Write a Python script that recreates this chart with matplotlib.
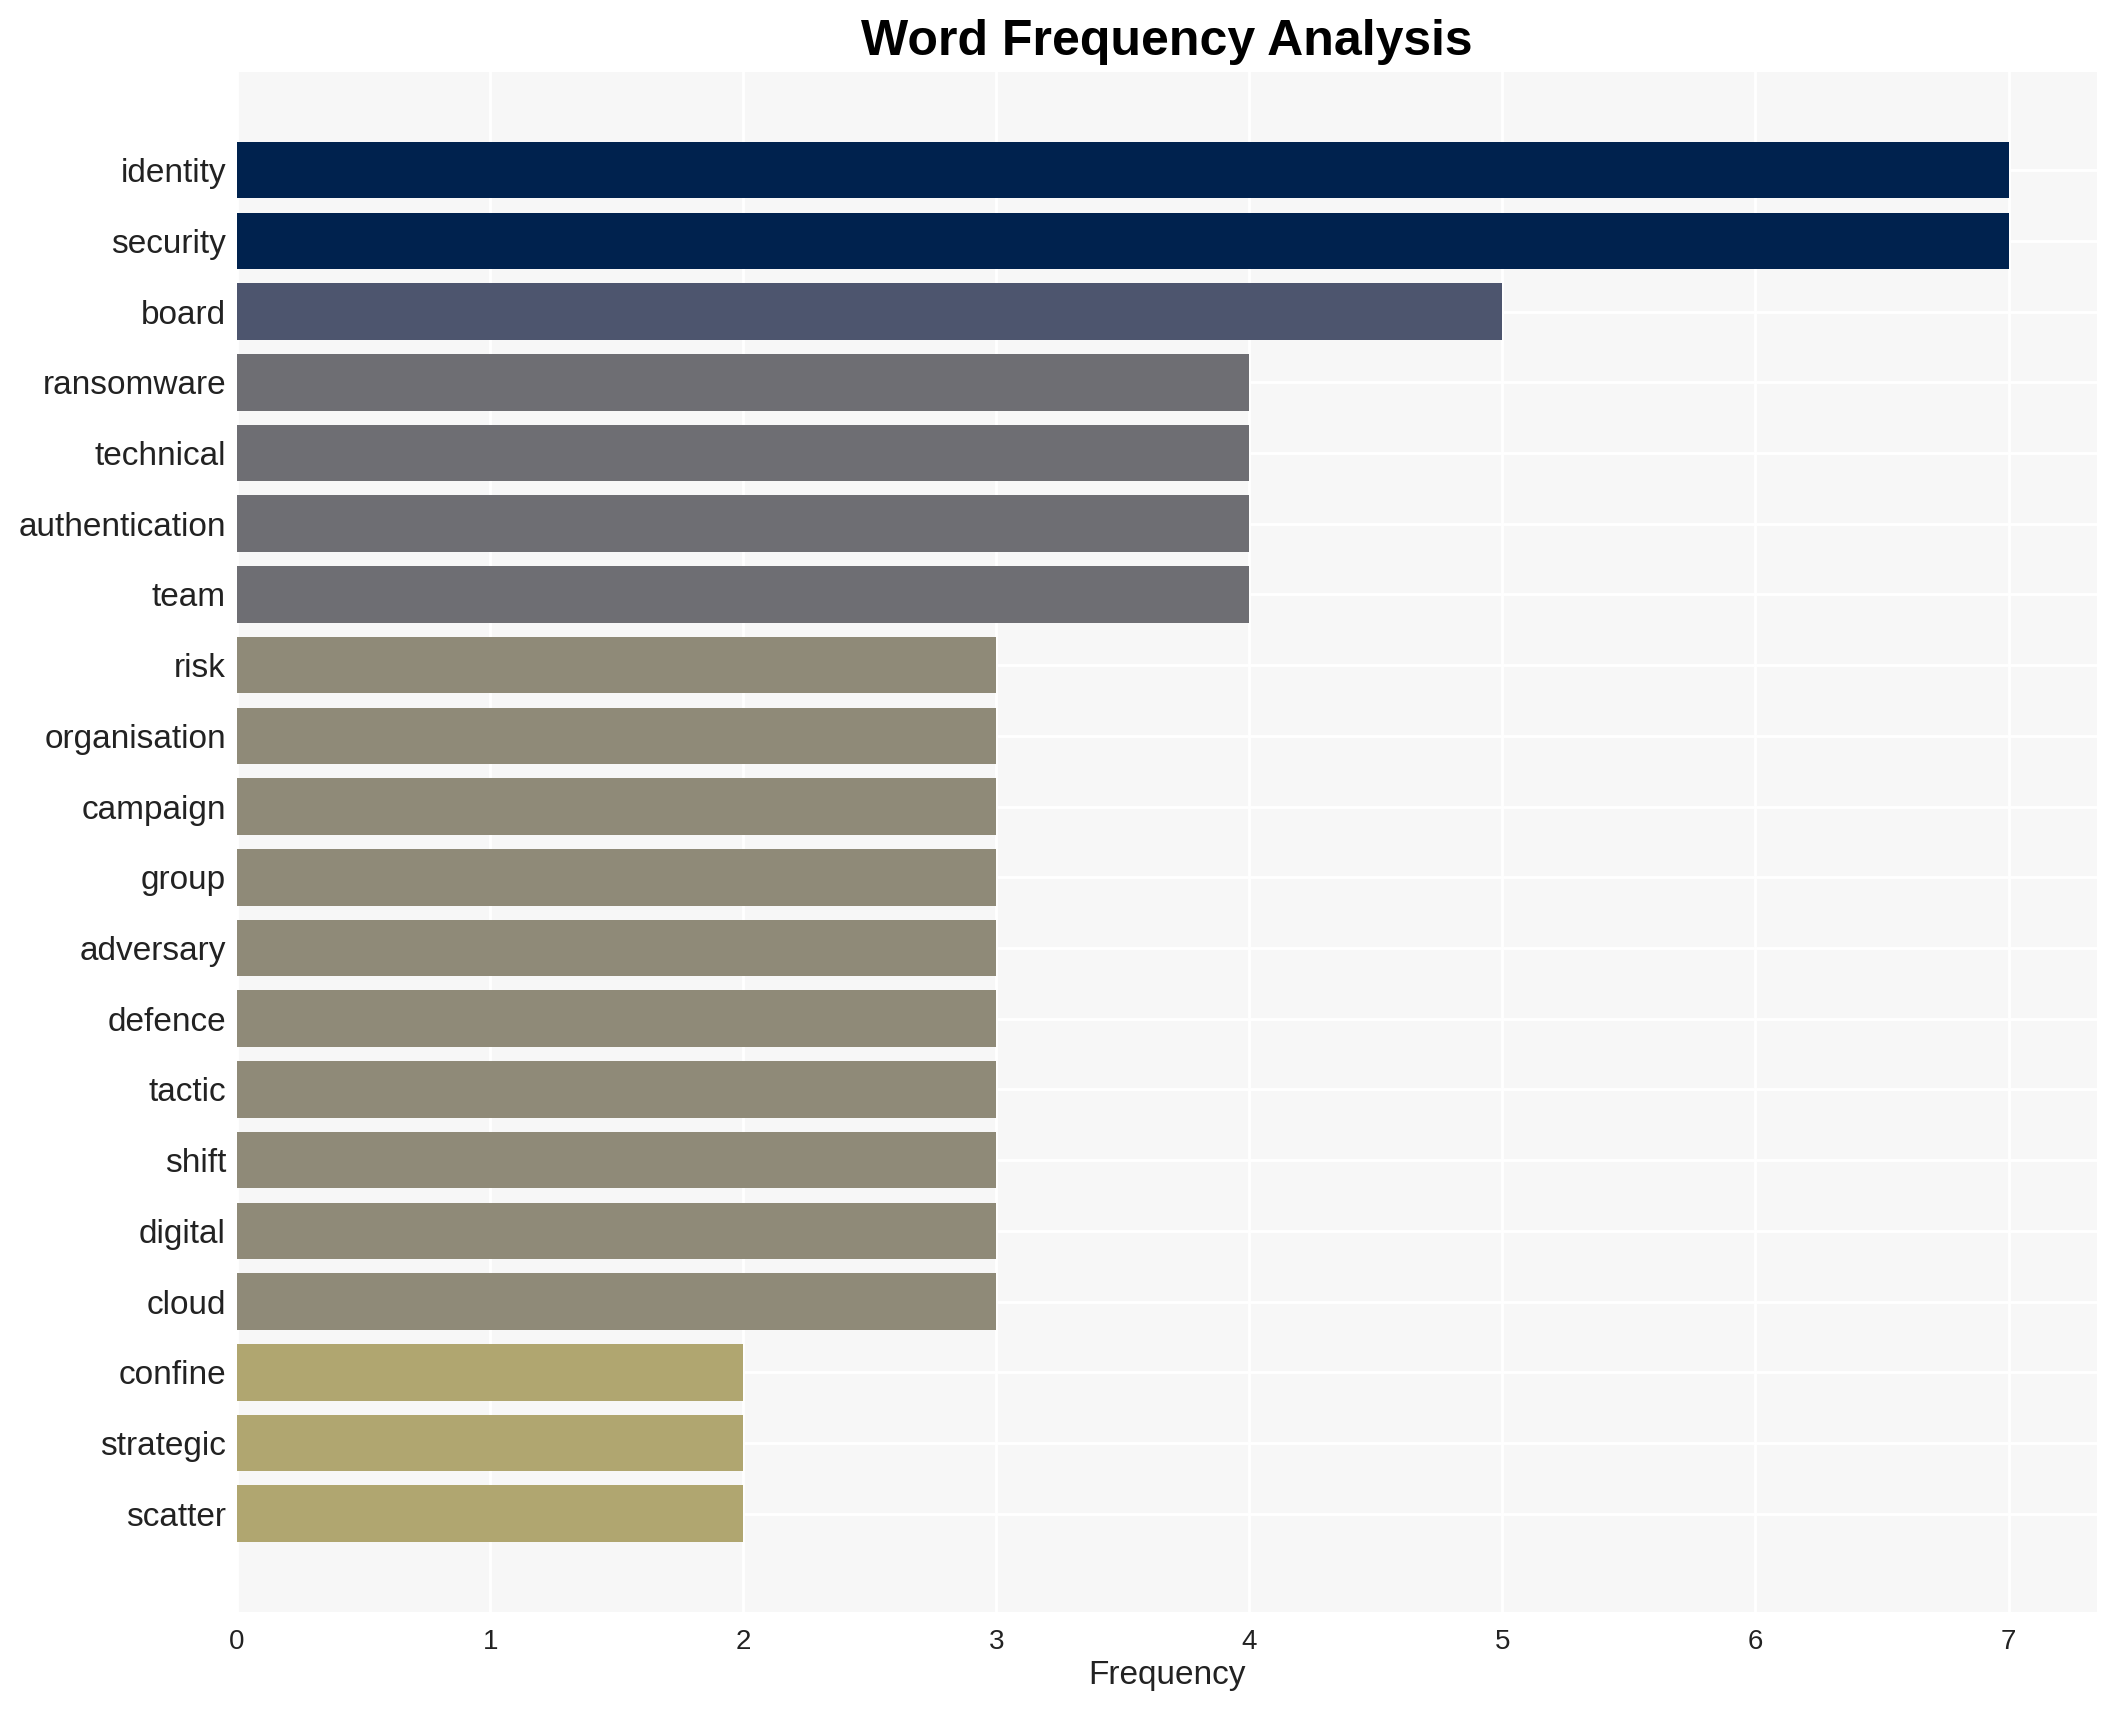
import matplotlib
matplotlib.use("Agg")
import matplotlib.pyplot as plt

# DATA
words = ['identity', 'security', 'board', 'ransomware', 'technical', 'authentication',
         'team', 'risk', 'organisation', 'campaign', 'group', 'adversary', 'defence',
         'tactic', 'shift', 'digital', 'cloud', 'confine', 'strategic', 'scatter']
counts = [7, 7, 5, 4, 4, 4, 4, 3, 3, 3, 3, 3, 3, 3, 3, 3, 3, 2, 2, 2]

# colour per frequency value
shade = {7: '#00224e', 5: '#4d556e', 4: '#6e6e73', 3: '#8f8a78', 2: '#b0a670'}

plt.rcParams['font.family'] = ['Liberation Sans', 'DejaVu Sans']

fig, ax = plt.subplots(figsize=(10.585, 8.55), dpi=200)
fig.subplots_adjust(left=0.112, right=0.9906, top=0.958, bottom=0.0573)
ax.set_facecolor('#f7f7f7')

ax.barh(words, counts, height=0.8, color=[shade[c] for c in counts], zorder=2)
ax.invert_yaxis()

ax.grid(True, color='white', linewidth=1.0, zorder=0)
ax.set_axisbelow(True)
for s in ax.spines.values():
    s.set_visible(False)
ax.tick_params(axis='both', length=0)
ax.tick_params(axis='y', labelsize=12, pad=4, labelcolor='#222222')
ax.tick_params(axis='x', labelsize=10, pad=6, labelcolor='#222222')

ax.set_xlabel('Frequency', fontsize=12, color='#222222', labelpad=2)
ax.set_title('Word Frequency Analysis', fontsize=18, fontweight='bold', pad=6)

fig.savefig('out.png', dpi=200, facecolor='white')
